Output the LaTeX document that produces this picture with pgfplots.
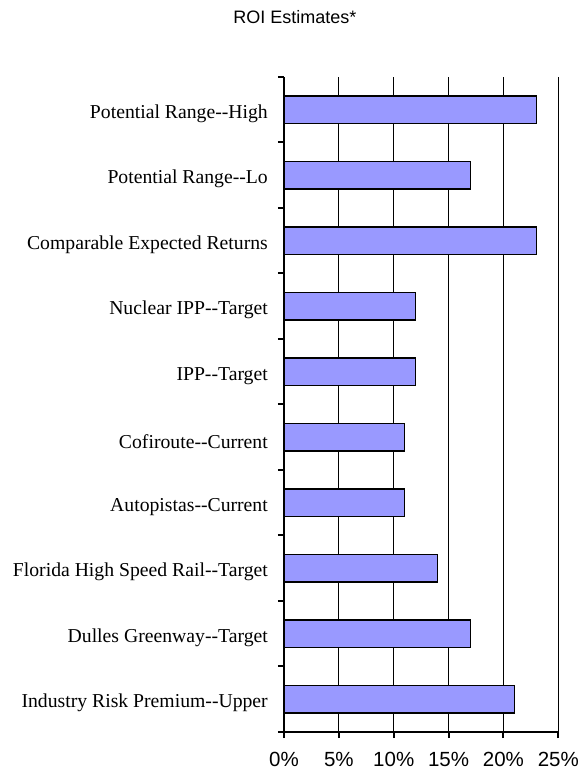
\documentclass[border=0pt]{standalone}
\usepackage{fontspec}
\setmainfont{Liberation Serif}
\newfontfamily\arial{Liberation Sans}
\usepackage{pgfplots}
\pgfplotsset{compat=1.18}
\definecolor{barblue}{RGB}{153,153,255}
\begin{document}
\begin{tikzpicture}
\useasboundingbox (0,0) rectangle (582bp,773bp);
\node[font=\arial\fontsize{18bp}{21bp}\selectfont, anchor=center] at (295bp,756bp) {ROI Estimates*};
\begin{axis}[
  at={(284bp,41bp)}, anchor=south west,
  scale only axis, width=274.3bp, height=655bp,
  xbar, bar width=27.7bp,
  xmin=0, xmax=25, ymin=-0.5, ymax=9.5,
  axis x line*=bottom, axis y line*=left,
  axis line style={line width=2bp},
  xtick={0,5,10,15,20,25},
  xticklabels={0\%,5\%,10\%,15\%,20\%,25\%},
  xmajorgrids, grid style={black, line width=0.8bp},
  ytick={0,...,9},
  yticklabels={Industry Risk Premium-{}-Upper, Dulles Greenway-{}-Target, Florida High Speed Rail-{}-Target, Autopistas-{}-Current, Cofiroute-{}-Current, IPP-{}-Target, Nuclear IPP-{}-Target, Comparable Expected Returns, Potential Range-{}-Lo, Potential Range-{}-High},
  minor ytick={-0.5,0.5,...,9.5},
  major y tick style={draw=none},
  minor y tick style={black, line width=2bp},
  major x tick style={black, line width=2bp},
  tick align=outside,
  major tick length=6bp, minor tick length=6bp,
  /pgf/number format/assume math mode=true,
  xticklabel style={font=\arial\fontsize{20.5bp}{24bp}\selectfont, inner sep=0pt, anchor=north, yshift=-14bp},
  yticklabel style={font=\fontsize{19.7bp}{23bp}\selectfont, inner sep=0pt, anchor=east, xshift=-10bp, yshift=-4bp},
]
\addplot[fill=barblue, draw=black, line width=1.5bp] coordinates {
(21,0) (17,1) (14,2) (11,3) (11,4) (12,5) (12,6) (23,7) (17,8) (23,9)};
\end{axis}
\end{tikzpicture}
\end{document}
